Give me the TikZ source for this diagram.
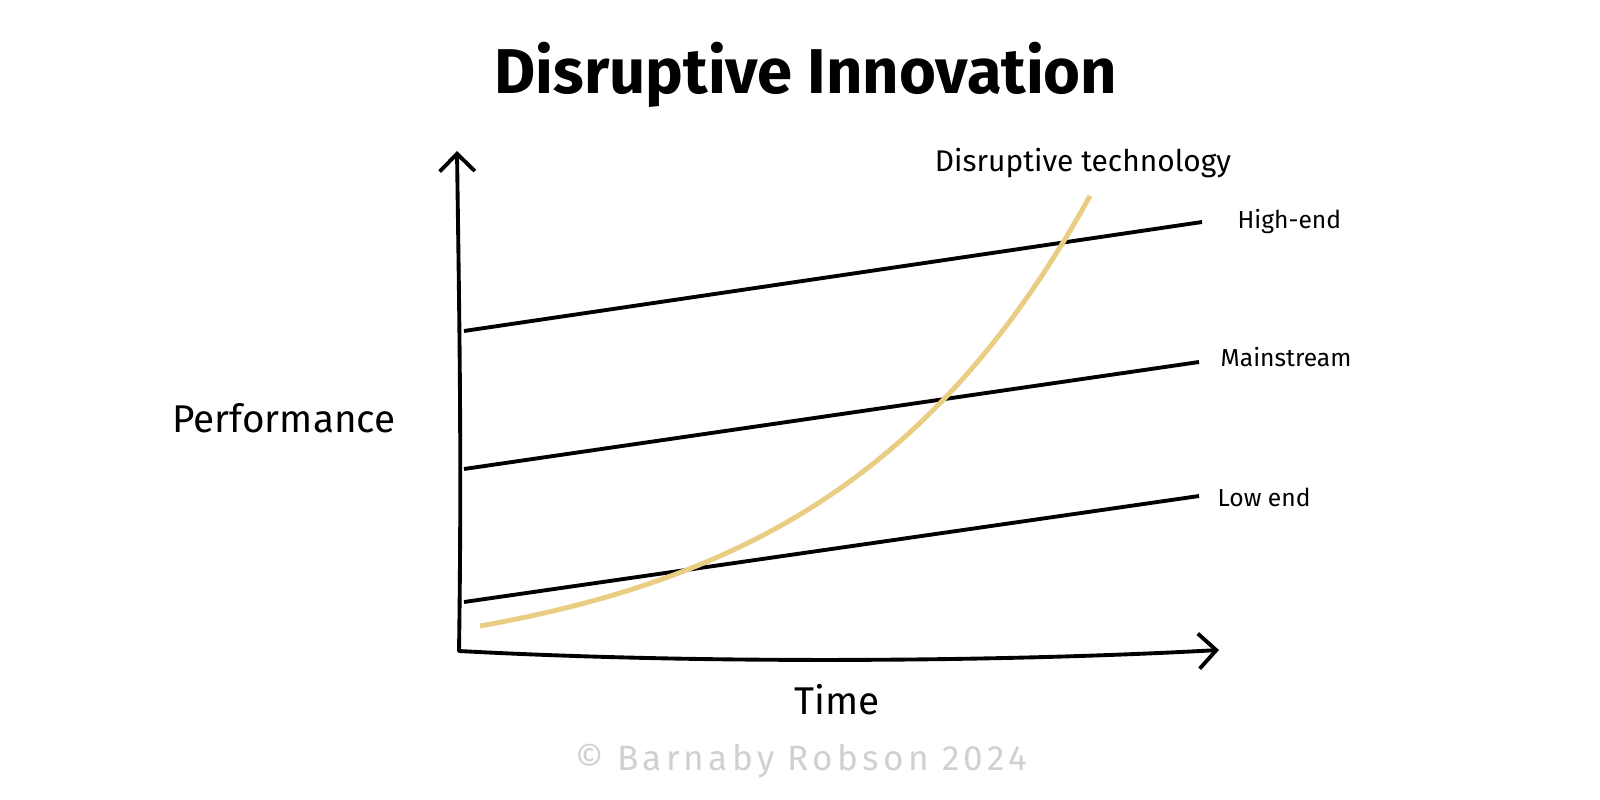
\documentclass[tikz,border=0pt]{standalone}
\usepackage{fontspec}
\setmainfont{Fira Sans}
\usetikzlibrary{arrows.meta}
\definecolor{gold}{HTML}{E8CD82}
\definecolor{copygray}{HTML}{D0D0D0}
\tikzset{
  axis/.style={line width=1.1pt, line cap=round, -{Straight Barb[length=5pt,width=10pt,line width=1.1pt]}},
  level/.style={line width=1.1pt},
  disrupt/.style={line width=1.4pt, gold},
  lbl/.style={inner sep=0pt, anchor=west, font=\fontsize{7}{8}\selectfont},
}
\begin{document}
\begin{tikzpicture}[x=0.01cm,y=-0.01cm]
\useasboundingbox (0,0) rectangle (1600,800);
% title
\node[inner sep=0pt, font=\fontsize{18}{22}\selectfont\bfseries] (title) at (806,75) {Disruptive Innovation};
% axes
\coordinate (O) at (459,651);
\coordinate (ytop) at (457,151);
\coordinate (xend) at (1219,650);
\draw[axis] (O) .. controls (462,450) and (459,300) .. (ytop);
\draw[axis] (O) .. controls (700,664) and (1000,662) .. (xend);
% market levels
\coordinate (h1) at (464,331); \coordinate (h2) at (1202,222);
\coordinate (m1) at (464,469); \coordinate (m2) at (1199,362);
\coordinate (l1) at (464,602); \coordinate (l2) at (1199,496);
\draw[level] (h1) -- (h2);
\draw[level] (m1) -- (m2);
\draw[level] (l1) -- (l2);
% disruptive curve
\draw[disrupt] plot[domain=480:1090, samples=100, smooth] (\x, {626-47*(exp(0.0038*(\x-480))-1)});
% labels
\node[lbl] (high) at (1237,222) {High-end};
\node[lbl] (main) at (1220,357) {Mainstream};
\node[lbl] (low) at (1217,497) {Low end};
\node[inner sep=0pt, font=\fontsize{8.5}{10}\selectfont] (dt) at (1083,163) {Disruptive technology};
\node[inner sep=0pt, font=\fontsize{11}{13}\selectfont] (perf) at (284,418) {Performance};
\node[inner sep=0pt, font=\fontsize{11}{13}\selectfont] (time) at (837,700) {Time};
\node[inner sep=0pt, text=copygray, font=\fontsize{10}{12}\selectfont\addfontfeatures{LetterSpace=12}] (copy) at (801,761) {© Barnaby Robson 2024};
\end{tikzpicture}
\end{document}
